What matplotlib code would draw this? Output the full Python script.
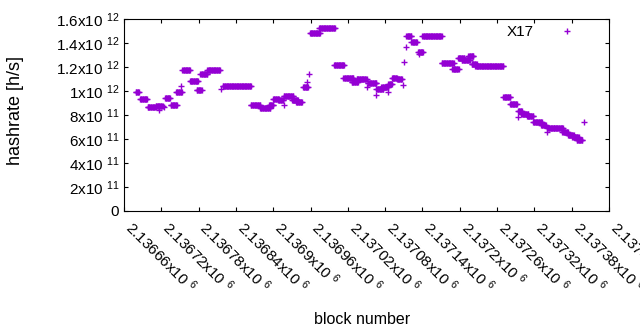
import numpy as np
import matplotlib
matplotlib.use("Agg")
import matplotlib.pyplot as plt

plt.rcParams['font.family'] = ['Liberation Sans', 'DejaVu Sans']
plt.rcParams['mathtext.fontset'] = 'custom'
plt.rcParams['mathtext.rm'] = 'Liberation Sans'
plt.rcParams['mathtext.it'] = 'Liberation Sans:italic'
plt.rcParams['mathtext.bf'] = 'Liberation Sans:bold'

# runs of blocks found by X17 with the same hashrate estimate (first block, last block, rate in 1e12 h/s)
run_first = [2136679, 2136686, 2136698, 2136711, 2136716, 2136724, 2136726, 2136735, 2136744, 2136752,
             2136754, 2136766, 2136777, 2136783, 2136794, 2136816, 2136819, 2136864, 2136879, 2136893,
             2136900, 2136908, 2136918, 2136917, 2136930, 2136937, 2136948, 2136955, 2136957, 2136959,
             2136974, 2136998, 2137013, 2137026, 2137034, 2137050, 2137052, 2137066, 2137066, 2137074,
             2137084, 2137085, 2137091, 2137099, 2137108, 2137110, 2137114, 2137114, 2137122, 2137133,
             2137135, 2137140, 2137171, 2137188, 2137197, 2137203, 2137214, 2137219, 2137225, 2137270,
             2137281, 2137293, 2137294, 2137299, 2137308, 2137318, 2137331, 2137340, 2137341, 2137352,
             2137365, 2137374, 2137381, 2137388, 2137399]
run_last = [2136684, 2136697, 2136711, 2136722, 2136716, 2136724, 2136734, 2136745, 2136753, 2136752,
            2136766, 2136779, 2136785, 2136794, 2136814, 2136816, 2136864, 2136879, 2136895, 2136900,
            2136909, 2136916, 2136918, 2136932, 2136940, 2136946, 2136956, 2136955, 2136957, 2136975,
            2136999, 2137014, 2137029, 2137036, 2137050, 2137050, 2137066, 2137066, 2137077, 2137085,
            2137084, 2137091, 2137099, 2137107, 2137108, 2137110, 2137114, 2137122, 2137131, 2137141,
            2137135, 2137171, 2137190, 2137198, 2137207, 2137216, 2137222, 2137227, 2137270, 2137281,
            2137292, 2137293, 2137300, 2137310, 2137318, 2137332, 2137338, 2137340, 2137352, 2137366,
            2137374, 2137383, 2137391, 2137397, 2137399]
run_rate = [0.989, 0.931, 0.867, 0.875, 0.842, 0.869, 0.939, 0.883, 0.994, 1.044,
            1.175, 1.083, 1.008, 1.140, 1.172, 1.017, 1.039, 0.886, 0.858, 0.883,
            0.933, 0.921, 0.883, 0.958, 0.929, 0.912, 1.033, 1.078, 1.139, 1.481,
            1.522, 1.214, 1.106, 1.075, 1.103, 1.036, 1.069, 0.967, 1.017, 1.033,
            0.994, 1.058, 1.108, 1.097, 1.050, 1.239, 1.364, 1.461, 1.406, 1.325,
            1.306, 1.461, 1.231, 1.181, 1.279, 1.258, 1.289, 1.225, 1.206, 0.947,
            0.889, 0.786, 0.836, 0.811, 0.792, 0.739, 0.719, 0.661, 0.694, 0.689,
            0.658, 0.637, 0.617, 0.589, 0.739]

x_ticks = np.arange(2136660, 2137441, 60)
y_ticks = [0, 2e11, 4e11, 6e11, 8e11, 1e12, 1.2e12, 1.4e12, 1.6e12]
y_tick_labels = ['0', '2x10^11', '4x10^11', '6x10^11', '8x10^11',
                 '1x10^12', '1.2x10^12', '1.4x10^12', '1.6x10^12']


def sci_label(s):
    # gnuplot style "1.2x10 12": exponent raised and set apart from the base
    if '^' not in s:
        return r'$\mathregular{%s\enspace\;}$' % s
    base, exp = s.split('^')
    return r'$\mathregular{%s^{\ \, %s}}$' % (base, exp)


blocks = np.concatenate([np.arange(a, b + 1) for a, b in zip(run_first, run_last)])
rates = np.concatenate([np.full(b - a + 1, r) for a, b, r in zip(run_first, run_last, run_rate)]) * 1e12

fig = plt.figure(figsize=(6.4, 3.3), dpi=100)
ax = fig.add_axes([124 / 640, 1 - 211 / 330, 485 / 640, 192 / 330])

ax.plot(blocks, rates, '+', color='#9400d3', ms=5, mew=1.0, label='X17')

ax.set_xlim(2136660, 2137440)
ax.set_ylim(0, 1.6e12)

ax.set_xticks(x_ticks)
ax.set_xticklabels([sci_label('%gx10^6' % (t / 1e6)) for t in x_ticks],
                   rotation=-45, ha='left', va='baseline', rotation_mode='anchor')
ax.set_yticks(y_ticks)
ax.set_yticklabels([sci_label(s) for s in y_tick_labels])

ax.tick_params(direction='in', top=True, right=True, length=3.2, width=0.8,
               labelsize=11, colors='black')
ax.tick_params(axis='x', pad=13)
ax.tick_params(axis='y', pad=3)
for sp in ax.spines.values():
    sp.set_linewidth(0.8)

ax.set_xlabel('block number', fontsize=11.5, va='center')
ax.xaxis.set_label_coords(0.49, -0.5625)
ax.set_ylabel('hashrate [h/s]', fontsize=13, va='center')
ax.yaxis.set_label_coords(-0.2227, 0.526)

ax.legend(loc='upper right', markerfirst=False, frameon=False, fontsize=11,
          handlelength=2, handletextpad=1.2, borderpad=0, borderaxespad=0,
          bbox_to_anchor=(1 - 26.7 / 485, 1 - 6.5 / 192))

fig.savefig('out.png', dpi=100, facecolor='white')
